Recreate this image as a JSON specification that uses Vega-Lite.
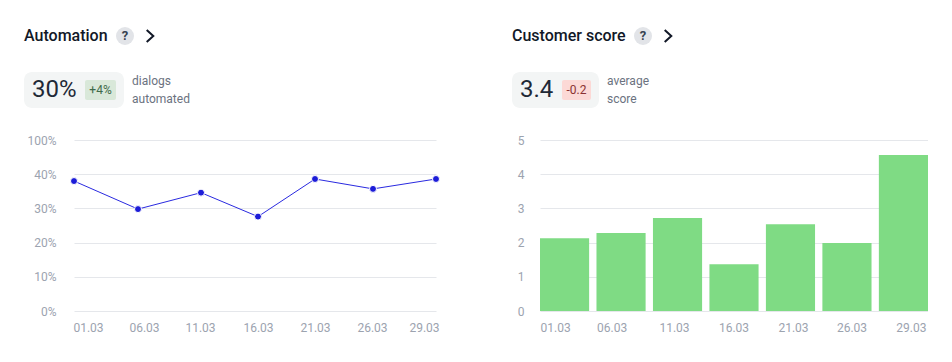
{"$schema":"https://vega.github.io/schema/vega-lite/v6.json","padding":{"left":24,"top":26,"right":0,"bottom":0},"background":"#ffffff","spacing":70,"config":{"view":{"stroke":null},"font":"Roboto","axis":{"labelFont":"Roboto","labelFontSize":12,"labelColor":"#9ca3af","domain":false,"ticks":false,"title":null,"gridColor":"#e5e7eb","gridWidth":1,"labelOverlap":false,"labelBound":false,"labelFlush":false}},
"hconcat":[
{"width":368,"height":171,"layer":[
{"data":{"values":[{"t":"chip"}]},"mark":{"type":"rect","x":-48,"x2":52,"y":-68,"y2":-32,"cornerRadius":8,"color":"#f3f5f5"},"encoding":{}},
{"data":{"values":[{"t":"tag"}]},"mark":{"type":"rect","x":13,"x2":44,"y":-60,"y2":-40,"cornerRadius":2,"color":"#d9e8d9"},"encoding":{}},
{"data":{"values":[{"title":"Automation"}]},"mark":{"type":"text","x":-48,"y":-104,"align":"left","fontSize":16,"fontWeight":500,"color":"#111827"},"encoding":{"text":{"field":"title"}}},
{"data":{"values":[{"value":"30%"}]},"mark":{"type":"text","x":-40,"y":-50,"align":"left","fontSize":24,"color":"#1f2937"},"encoding":{"text":{"field":"value"}}},
{"data":{"values":[{"delta":"+4%"}]},"mark":{"type":"text","x":28.5,"y":-50,"align":"center","fontSize":12,"color":"#3f6b4a"},"encoding":{"text":{"field":"delta"}}},
{"data":{"values":[{"t":"dialogs"}]},"mark":{"type":"text","x":60,"y":-59,"align":"left","fontSize":12,"letterSpacing":0.2,"color":"#6b7280"},"encoding":{"text":{"field":"t"}}},
{"data":{"values":[{"t":"automated"}]},"mark":{"type":"text","x":60,"y":-41,"align":"left","fontSize":12,"letterSpacing":0.2,"color":"#6b7280"},"encoding":{"text":{"field":"t"}}},
{"data":{"values":[{"i":"?"}]},"mark":{"type":"point","x":53,"y":-104,"size":324,"filled":true,"shape":"circle","color":"#e2e4e8","opacity":1},"encoding":{}},
{"data":{"values":[{"i":"?"}]},"mark":{"type":"text","x":53,"y":-104,"align":"center","fontSize":13,"fontWeight":700,"color":"#374151"},"encoding":{"text":{"field":"i"}}},
{"data":{"values":[{"i":">"}]},"mark":{"type":"point","x":78,"y":-104,"size":144,"shape":"M-0.55,-1L0.55,0L-0.55,1","filled":false,"stroke":"#111827","strokeWidth":2,"opacity":1},"encoding":{}},
{"data":{"values":[{"day":1,"date":"01.03","rate":38},{"day":6,"date":"06.03","rate":29.8},{"day":11,"date":"11.03","rate":34.6},{"day":16,"date":"16.03","rate":27.6},{"day":21,"date":"21.03","rate":38.6},{"day":26,"date":"26.03","rate":35.7},{"day":29,"date":"29.03","rate":38.6}]},
"encoding":{"x":{"field":"day","type":"quantitative","scale":{"domain":[1,6,11,16,21,26,29],"range":[2,66,129,186,243,301,364],"nice":false,"zero":false},"axis":{"values":[1,6,11,16,21,26,29],"grid":false,"labelPadding":11,"labelExpr":"(datum.value<10?'0':'')+datum.value+'.03'","labelOffset":{"condition":[{"test":"datum.value==1","value":14},{"test":"datum.value==6","value":6},{"test":"datum.value==11","value":-1},{"test":"datum.value==26","value":-1},{"test":"datum.value==29","value":-12}],"value":0}}},"y":{"field":"rate","type":"quantitative","scale":{"domain":[0,50],"nice":false},"axis":{"values":[0,10,20,30,40,50],"labelPadding":16,"labelExpr":"datum.value==50?'100%':datum.value+'%'"}}},
"layer":[{"mark":{"type":"line","color":"#2a2ae0","strokeWidth":1}},{"mark":{"type":"point","filled":true,"size":49,"fill":"#1c1cd8","stroke":"#ffffff","strokeWidth":1,"opacity":1}}]}
]},
{"width":388,"height":171,"layer":[
{"data":{"values":[{"t":"chip"}]},"mark":{"type":"rect","x":-28,"x2":59,"y":-68,"y2":-32,"cornerRadius":8,"color":"#f3f5f5"},"encoding":{}},
{"data":{"values":[{"t":"tag"}]},"mark":{"type":"rect","x":22,"x2":51,"y":-60,"y2":-40,"cornerRadius":2,"color":"#fcd9d6"},"encoding":{}},
{"data":{"values":[{"title":"Customer score"}]},"mark":{"type":"text","x":-28,"y":-104,"align":"left","fontSize":16,"fontWeight":500,"color":"#111827"},"encoding":{"text":{"field":"title"}}},
{"data":{"values":[{"value":"3.4"}]},"mark":{"type":"text","x":-20,"y":-50,"align":"left","fontSize":24,"color":"#1f2937"},"encoding":{"text":{"field":"value"}}},
{"data":{"values":[{"delta":"-0.2"}]},"mark":{"type":"text","x":36.5,"y":-50,"align":"center","fontSize":12,"color":"#8a3232"},"encoding":{"text":{"field":"delta"}}},
{"data":{"values":[{"t":"average"}]},"mark":{"type":"text","x":67,"y":-59,"align":"left","fontSize":12,"letterSpacing":0.2,"color":"#6b7280"},"encoding":{"text":{"field":"t"}}},
{"data":{"values":[{"t":"score"}]},"mark":{"type":"text","x":67,"y":-41,"align":"left","fontSize":12,"letterSpacing":0.2,"color":"#6b7280"},"encoding":{"text":{"field":"t"}}},
{"data":{"values":[{"i":"?"}]},"mark":{"type":"point","x":103,"y":-104,"size":324,"filled":true,"shape":"circle","color":"#e2e4e8","opacity":1},"encoding":{}},
{"data":{"values":[{"i":"?"}]},"mark":{"type":"text","x":103,"y":-104,"align":"center","fontSize":13,"fontWeight":700,"color":"#374151"},"encoding":{"text":{"field":"i"}}},
{"data":{"values":[{"i":">"}]},"mark":{"type":"point","x":128,"y":-104,"size":144,"shape":"M-0.55,-1L0.55,0L-0.55,1","filled":false,"stroke":"#111827","strokeWidth":2,"opacity":1},"encoding":{}},
{"data":{"values":[{"date":"01.03","score":2.13},{"date":"06.03","score":2.28},{"date":"11.03","score":2.72},{"date":"16.03","score":1.37},{"date":"21.03","score":2.54},{"date":"26.03","score":1.99},{"date":"29.03","score":4.56}]},
"mark":{"type":"bar","color":"#7fdb84"},
"encoding":{"x":{"field":"date","type":"ordinal","sort":null,"scale":{"paddingInner":0.13,"paddingOuter":0},"axis":{"grid":false,"labelAngle":0,"labelPadding":11,"labelOffset":{"condition":[{"test":"datum.value=='01.03'","value":-9},{"test":"datum.value=='06.03'","value":-9},{"test":"datum.value=='11.03'","value":-3},{"test":"datum.value=='21.03'","value":3},{"test":"datum.value=='26.03'","value":5},{"test":"datum.value=='29.03'","value":8}],"value":0}}},"y":{"field":"score","type":"quantitative","scale":{"domain":[0,5],"nice":false},"axis":{"values":[0,1,2,3,4,5],"labelPadding":16}}}}
]}
]}
